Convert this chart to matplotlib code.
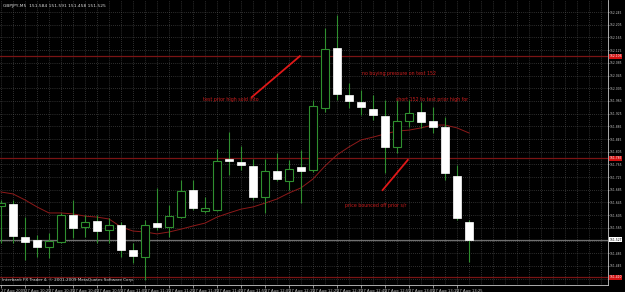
import matplotlib.pyplot as plt
from matplotlib.patches import Rectangle
import matplotlib.transforms as mtransforms

# GBPJPY M5 蜡烛图数据 (27 Aug 2009, 10:15 开始, 每根 5 分钟)
opens = [151.634, 151.640, 151.536, 151.527, 151.505, 151.520, 151.606, 151.568, 151.587, 151.558,
         151.574, 151.495, 151.473, 151.580, 151.568, 151.599, 151.684, 151.618, 151.621, 151.782,
         151.773, 151.760, 151.662, 151.744, 151.713, 151.757, 151.747, 151.943, 152.132, 151.984,
         151.962, 151.940, 151.917, 151.820, 151.902, 151.930, 151.902, 151.883, 151.728, 151.584]
highs = [151.653, 151.653, 151.599, 151.543, 151.549, 151.612, 151.653, 151.606, 151.606, 151.596,
         151.584, 151.517, 151.590, 151.691, 151.637, 151.716, 151.716, 151.662, 151.813, 151.867,
         151.823, 151.782, 151.782, 151.801, 151.779, 151.810, 151.968, 152.195, 152.236, 152.021,
         151.999, 151.984, 151.968, 151.968, 151.968, 151.962, 151.946, 151.914, 151.763, 151.590]
lows = [151.517, 151.517, 151.464, 151.473, 151.470, 151.517, 151.533, 151.536, 151.517, 151.517,
        151.473, 151.454, 151.401, 151.558, 151.536, 151.596, 151.621, 151.612, 151.618, 151.732,
        151.747, 151.653, 151.612, 151.713, 151.684, 151.643, 151.741, 151.930, 151.968, 151.943,
        151.921, 151.905, 151.738, 151.801, 151.883, 151.880, 151.864, 151.716, 151.590, 151.458]
closes = [151.643, 151.539, 151.520, 151.505, 151.524, 151.606, 151.565, 151.584, 151.555, 151.574,
          151.495, 151.476, 151.574, 151.568, 151.602, 151.681, 151.628, 151.628, 151.776, 151.776,
          151.763, 151.662, 151.744, 151.719, 151.750, 151.744, 151.949, 152.128, 151.987, 151.965,
          151.946, 151.921, 151.820, 151.902, 151.927, 151.899, 151.883, 151.738, 151.596, 151.527]
# 移动平均线
ma = [151.678, 151.672, 151.653, 151.631, 151.612, 151.612, 151.609, 151.602, 151.599, 151.593,
      151.568, 151.555, 151.552, 151.546, 151.552, 151.561, 151.571, 151.580, 151.599, 151.612,
      151.624, 151.631, 151.643, 151.656, 151.675, 151.691, 151.719, 151.760, 151.795, 151.820,
      151.842, 151.851, 151.861, 151.870, 151.873, 151.880, 151.889, 151.889, 151.880, 151.864]

time_labels = ["27 Aug 2009", "27 Aug 10:25", "27 Aug 10:35", "27 Aug 10:45", "27 Aug 10:55",
               "27 Aug 11:05", "27 Aug 11:15", "27 Aug 11:25", "27 Aug 11:35", "27 Aug 11:45",
               "27 Aug 11:55", "27 Aug 12:05", "27 Aug 12:15", "27 Aug 12:25", "27 Aug 12:35",
               "27 Aug 12:45", "27 Aug 12:55", "27 Aug 13:05", "27 Aug 13:15", "27 Aug 13:25"]
price_ticks = [152.245 - 0.04 * k for k in range(22)]

# 水平线 (支撑/阻力) 和当前价
level_lines = [152.106, 151.785, 151.410]
current_price = 151.527

# 手绘标注
notes = ["test prior high sold into", "no buying pressure on test 152",
         "short 152 to test prior high for", "price bounced off prior s/r"]
note_x = [16.8, 30.1, 32.9, 28.7]
note_y = [151.968, 152.050, 151.968, 151.637]
arrow_x = [[20.9, 24.9], [31.8, 33.9]]
arrow_y = [[151.977, 152.106], [151.684, 151.779]]

GREEN = '#2f8f2f'
RED = '#7a1414'

fig = plt.figure(figsize=(6.25, 2.92), dpi=100, facecolor='black')
ax = fig.add_axes([0, 7 / 292, 608 / 625, 285 / 292])
ax.set_facecolor('black')

# 网格
for j in range(0, 52):
    ax.axvline(j, color='#5a5a5a', lw=0.5, ls=(0, (1, 2)), zorder=0)
for p in price_ticks:
    ax.axhline(p, color='#5a5a5a', lw=0.5, ls=(0, (1, 2)), zorder=0)

for lv in level_lines:
    ax.axhline(lv, color=RED, lw=0.9, zorder=1)
ax.axhline(current_price, color='#707070', lw=0.9, zorder=1)

ax.plot(range(len(ma)), ma, color='#8e1a1a', lw=0.7, zorder=2)

# 蜡烛
for i in range(len(opens)):
    o, h, l, c = opens[i], highs[i], lows[i], closes[i]
    ax.vlines(i, l, h, color=GREEN, lw=0.8, zorder=3)
    bottom = min(o, c)
    height = max(abs(c - o), 0.003)
    if c >= o:
        rect = Rectangle((i - 0.37, bottom), 0.74, height, facecolor='black',
                         edgecolor=GREEN, lw=0.8, zorder=4)
    else:
        rect = Rectangle((i - 0.37, bottom), 0.74, height, facecolor='white',
                         edgecolor='white', lw=0.5, zorder=4)
    ax.add_patch(rect)

for xs, ys in zip(arrow_x, arrow_y):
    ax.plot(xs, ys, color='#e01818', lw=1.3, zorder=5)
for t, x, y in zip(notes, note_x, note_y):
    ax.text(x, y, t, color='#c81e1e', fontsize=3.4, va='center', ha='left', zorder=6)

ax.set_xlim(-1 / 12, 607 / 12)
ax.set_ylim(151.385, 152.283)

ax.set_xticks(range(0, 40, 2))
ax.set_xticklabels(time_labels, ha='left')
ax.yaxis.tick_right()
ax.set_yticks(price_ticks)
# 被价格框遮住的刻度不显示文字
boxed = level_lines + [current_price]
ax.set_yticklabels(['' if min(abs(p - b) for b in boxed) < 0.015 else '%.3f' % p
                    for p in price_ticks])
ax.tick_params(axis='x', colors='#c8c8c8', labelsize=2.7, length=2, width=0.5, pad=1)
ax.tick_params(axis='y', colors='#c8c8c8', labelsize=2.2, length=1, width=0.5, pad=0.3)
for s in ['top', 'left']:
    ax.spines[s].set_visible(False)
for s in ['right', 'bottom']:
    ax.spines[s].set_color('#c8c8c8')
    ax.spines[s].set_linewidth(0.6)

# 右侧价格标签框
trans = mtransforms.blended_transform_factory(ax.transAxes, ax.transData)
for lv in level_lines:
    ax.text(1.002, lv, '%.3f' % lv, transform=trans, fontsize=2.2, color='white', va='center',
            ha='left', bbox=dict(facecolor='#d01010', edgecolor='none', pad=0.4), clip_on=False, zorder=7)
ax.text(1.002, current_price, '%.3f' % current_price, transform=trans, fontsize=2.2, color='black',
        va='center', ha='left', bbox=dict(facecolor='white', edgecolor='none', pad=0.4), clip_on=False, zorder=7)

ax.text(0.005, 0.985, 'GBPJPY,M5  151.584 151.591 151.458 151.525', transform=ax.transAxes,
        color='#d8d8d8', fontsize=3.2, va='top', ha='left')
ax.text(0.004, 0.012, 'Interbank FX Trader 4, \u00a9 2001-2009 MetaQuotes Software Corp.',
        transform=ax.transAxes, color='#d8d8d8', fontsize=3.0, va='bottom', ha='left')

fig.savefig('out.png', dpi=100, facecolor='black')
